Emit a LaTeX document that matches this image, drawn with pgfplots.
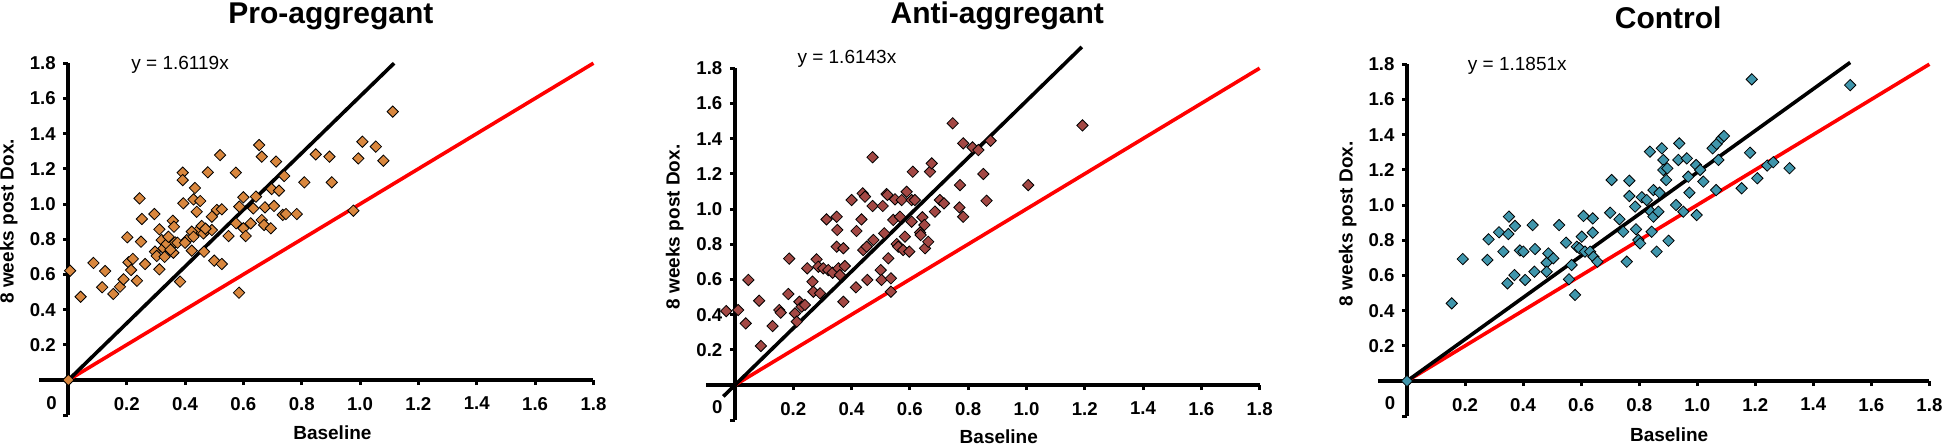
\documentclass[border=0pt]{standalone}
\usepackage{pgfplots}
\pgfplotsset{compat=1.18}
\usepackage{fontspec}
\setmainfont{Liberation Sans}
\definecolor{proC}{RGB}{217,135,62}
\definecolor{antiC}{RGB}{163,72,68}
\definecolor{ctrlC}{RGB}{64,150,172}
\pgfplotsset{
  panel/.style={
    y=88pt,
    xmin=-0.1, xmax=1.8, ymin=-0.2, ymax=1.8,
    axis lines=middle,
    every non boxed x axis/.append style={x axis line style={-}},
    every non boxed y axis/.append style={y axis line style={-}},
    axis line style={line width=2pt,-},
    x axis line style={-}, y axis line style={-},
    tick align=outside,
    major tick length=2.5pt,
    tick style={line width=1.5pt, black},
    xtick={0.2,0.4,0.6,0.8,1.0,1.2,1.4,1.6,1.8},
    xticklabels={0.2,0.4,0.6,0.8,1.0,1.2,1.4,1.6,1.8},
    ytick={-0.2,0.2,0.4,0.6,0.8,1.0,1.2,1.4,1.6,1.8},
    yticklabels={,0.2,0.4,0.6,0.8,1.0,1.2,1.4,1.6,1.8},
    ticklabel style={font=\fontsize{9.3}{9.3}\selectfont\bfseries},
    xticklabel shift=2.5pt,
    yticklabel shift=0.3pt,
    xlabel={Baseline},
    ylabel={8 weeks post Dox.},
    label style={font=\fontsize{9.5}{9.5}\selectfont\bfseries},
    clip=false,
    anchor=south west,
  },
  dots/.style={only marks, mark=square*, mark size=2pt, mark options={rotate=45, draw=none, fill=#1}},
}
\begin{document}
\begin{tikzpicture}
\path[use as bounding box] (0,0) rectangle (973pt,223.5pt);

% Panel 1
\begin{axis}[panel, x=145.85pt, at={(19.6pt,15.9pt)},
  xlabel style={at={(axis description cs:0.529,-0.05)}, anchor=center},
  ylabel style={at={(axis description cs:-0.055,0.551)}, anchor=center, rotate=90}]
\addplot[dots=proC] coordinates {
(0,0)
(0.006,0.621)(0.042,0.473)(0.086,0.665)(0.126,0.619)(0.116,0.527)(0.154,0.489)(0.177,0.530)(0.189,0.572)(0.202,0.811)(0.206,0.669)(0.215,0.625)(0.221,0.688)(0.235,0.564)(0.244,1.032)(0.249,0.786)(0.252,0.915)(0.263,0.659)(0.295,0.943)(0.312,0.856)(0.312,0.629)(0.297,0.729)(0.303,0.705)(0.320,0.795)(0.326,0.748)(0.337,0.773)(0.343,0.814)(0.358,0.905)(0.362,0.871)(0.366,0.782)(0.360,0.723)(0.374,0.780)(0.383,0.559)(0.394,1.004)(0.392,1.178)(0.392,1.136)(0.406,0.795)(0.423,0.735)(0.429,1.026)(0.434,1.091)(0.440,0.956)(0.452,1.017)(0.446,0.852)(0.457,0.875)(0.463,0.833)(0.465,0.729)(0.478,1.180)(0.474,0.852)(0.492,0.852)(0.500,0.678)(0.509,0.966)(0.520,1.278)(0.526,0.970)(0.526,0.659)(0.549,0.818)(0.574,1.178)(0.575,0.890)(0.586,0.985)(0.585,0.496)(0.600,1.038)(0.600,0.862)(0.608,0.818)(0.625,0.890)(0.634,0.975)(0.643,1.042)(0.654,1.335)(0.663,1.269)(0.663,0.909)(0.674,0.981)(0.671,0.881)(0.694,0.862)(0.697,1.085)(0.705,0.989)(0.712,1.241)(0.722,1.076)(0.735,0.938)(0.740,1.159)(0.746,0.943)(0.783,0.943)(0.809,1.123)(0.848,1.282)(0.895,1.269)(0.903,1.123)(0.977,0.962)(0.994,1.259)(1.008,1.354)(1.054,1.326)(1.080,1.246)(1.112,1.525)
(0.423,0.843)(0.429,0.814)(0.33,0.70)(0.35,0.74)(0.40,0.78)(0.47,0.86)(0.492,0.928)
};
\addplot[red, line width=1.8pt] coordinates {(0,0) (1.8,1.8)};
\addplot[black, line width=1.8pt] coordinates {(0,0) (1.1167,1.8)};
\node[font=\fontsize{15}{15}\selectfont\bfseries] at (axis cs:0.9,2.065) {Pro-aggregant};
\node[font=\fontsize{9.5}{9.5}\selectfont] at (axis cs:0.383,1.791) {y = 1.6119x};
\node[font=\fontsize{9.3}{9.3}\selectfont\bfseries] at (axis cs:-0.058,-0.13) {0};
\end{axis}

% Panel 2
\begin{axis}[panel, x=145.75pt, at={(352.9pt,13.4pt)},
  xlabel style={at={(axis description cs:0.529,-0.047)}, anchor=center},
  ylabel style={at={(axis description cs:-0.056,0.549)}, anchor=center, rotate=90}]
\addplot[dots=antiC] coordinates {
(-0.03,0.42)(0.011,0.426)(0.037,0.350)(0.046,0.597)(0.083,0.479)(0.089,0.222)(0.129,0.335)(0.152,0.426)(0.157,0.411)(0.183,0.517)(0.186,0.718)(0.206,0.407)(0.212,0.360)(0.221,0.473)(0.229,0.445)(0.240,0.455)(0.248,0.663)(0.266,0.587)(0.269,0.530)(0.280,0.714)(0.286,0.672)(0.292,0.521)(0.303,0.663)(0.314,0.941)(0.320,0.653)(0.335,0.638)(0.349,0.956)(0.351,0.881)(0.349,0.786)(0.355,0.663)(0.360,0.625)(0.372,0.777)(0.372,0.473)(0.377,0.676)(0.400,1.051)(0.415,0.555)(0.417,0.875)(0.434,0.941)(0.438,1.089)(0.446,1.070)(0.440,0.767)(0.452,0.786)(0.454,0.597)(0.472,1.294)(0.472,1.017)(0.475,0.824)(0.500,0.653)(0.507,1.017)(0.503,0.597)(0.512,0.862)(0.520,1.085)(0.523,1.080)(0.526,0.720)(0.535,0.606)(0.535,0.530)(0.543,0.938)(0.549,1.055)(0.555,0.801)(0.560,0.786)(0.566,0.956)(0.572,1.051)(0.577,0.767)(0.583,0.843)(0.589,1.098)(0.598,0.758)(0.606,0.928)(0.606,1.051)(0.610,1.212)(0.617,1.051)(0.635,0.866)(0.637,0.852)(0.643,0.953)(0.650,0.909)(0.652,0.777)(0.663,0.814)(0.669,1.212)(0.675,1.259)(0.686,0.985)(0.703,1.051)(0.717,1.032)(0.747,1.487)(0.770,1.009)(0.772,1.136)(0.783,0.956)(0.783,1.373)(0.815,1.350)(0.835,1.335)(0.852,1.199)(0.863,1.047)(0.877,1.388)(1.006,1.136)(1.192,1.475)
};
\addplot[red, line width=1.8pt] coordinates {(0,0) (1.8,1.8)};
\addplot[black, line width=1.8pt] coordinates {(-0.04,-0.065) (1.19,1.921)};
\node[font=\fontsize{15}{15}\selectfont\bfseries] at (axis cs:0.9,2.099) {Anti-aggregant};
\node[font=\fontsize{9.5}{9.5}\selectfont] at (axis cs:0.384,1.853) {y = 1.6143x};
\node[font=\fontsize{9.3}{9.3}\selectfont\bfseries] at (axis cs:-0.061,-0.125) {0};
\end{axis}

% Panel 3
\begin{axis}[panel, x=145.1pt, at={(689pt,15.4pt)},
  xlabel style={at={(axis description cs:0.528,-0.053)}, anchor=center},
  ylabel style={at={(axis description cs:-0.055,0.547)}, anchor=center, rotate=90}]
\addplot[dots=ctrlC] coordinates {
(0,0)(0.154,0.441)(0.192,0.693)(0.277,0.688)(0.281,0.805)(0.317,0.845)(0.332,0.735)(0.346,0.555)(0.351,0.934)(0.349,0.835)(0.372,0.881)(0.370,0.602)(0.389,0.742)(0.401,0.735)(0.407,0.574)(0.433,0.886)(0.441,0.750)(0.439,0.621)(0.481,0.672)(0.487,0.725)(0.481,0.621)(0.504,0.697)(0.524,0.886)(0.548,0.786)(0.558,0.578)(0.567,0.659)(0.579,0.489)(0.585,0.763)(0.594,0.754)(0.602,0.820)(0.608,0.938)(0.613,0.735)(0.631,0.735)(0.640,0.924)(0.640,0.843)(0.642,0.706)(0.656,0.678)(0.700,0.956)(0.705,1.142)(0.732,0.919)(0.745,0.848)(0.757,0.678)(0.766,1.138)(0.766,1.051)(0.786,0.991)(0.789,0.862)(0.797,0.801)(0.803,0.782)(0.809,1.044)(0.826,1.028)(0.837,1.303)(0.840,0.962)(0.843,0.848)(0.849,1.085)(0.849,0.934)(0.860,0.735)(0.866,0.962)(0.870,1.070)(0.878,1.322)(0.883,1.256)(0.883,1.199)(0.893,1.142)(0.897,1.208)(0.901,0.797)(0.927,1.000)(0.935,1.256)(0.938,1.350)(0.952,0.962)(0.964,1.265)(0.969,1.161)(0.973,1.070)(0.996,1.227)(0.998,0.943)(1.010,1.199)(1.021,1.133)(1.053,1.322)(1.065,1.085)(1.067,1.347)(1.073,1.256)(1.084,1.379)(1.092,1.392)(1.153,1.095)(1.182,1.297)(1.188,1.714)(1.207,1.152)(1.241,1.224)(1.262,1.243)(1.318,1.209)(1.527,1.681)
};
\addplot[red, line width=1.8pt] coordinates {(0,0) (1.8,1.8)};
\addplot[black, line width=1.8pt] coordinates {(0,0) (1.527,1.81)};
\node[font=\fontsize{15}{15}\selectfont\bfseries] at (axis cs:0.9,2.065) {Control};
\node[font=\fontsize{9.5}{9.5}\selectfont] at (axis cs:0.380,1.791) {y = 1.1851x};
\node[font=\fontsize{9.3}{9.3}\selectfont\bfseries] at (axis cs:-0.059,-0.127) {0};
\end{axis}
\end{tikzpicture}
\end{document}
